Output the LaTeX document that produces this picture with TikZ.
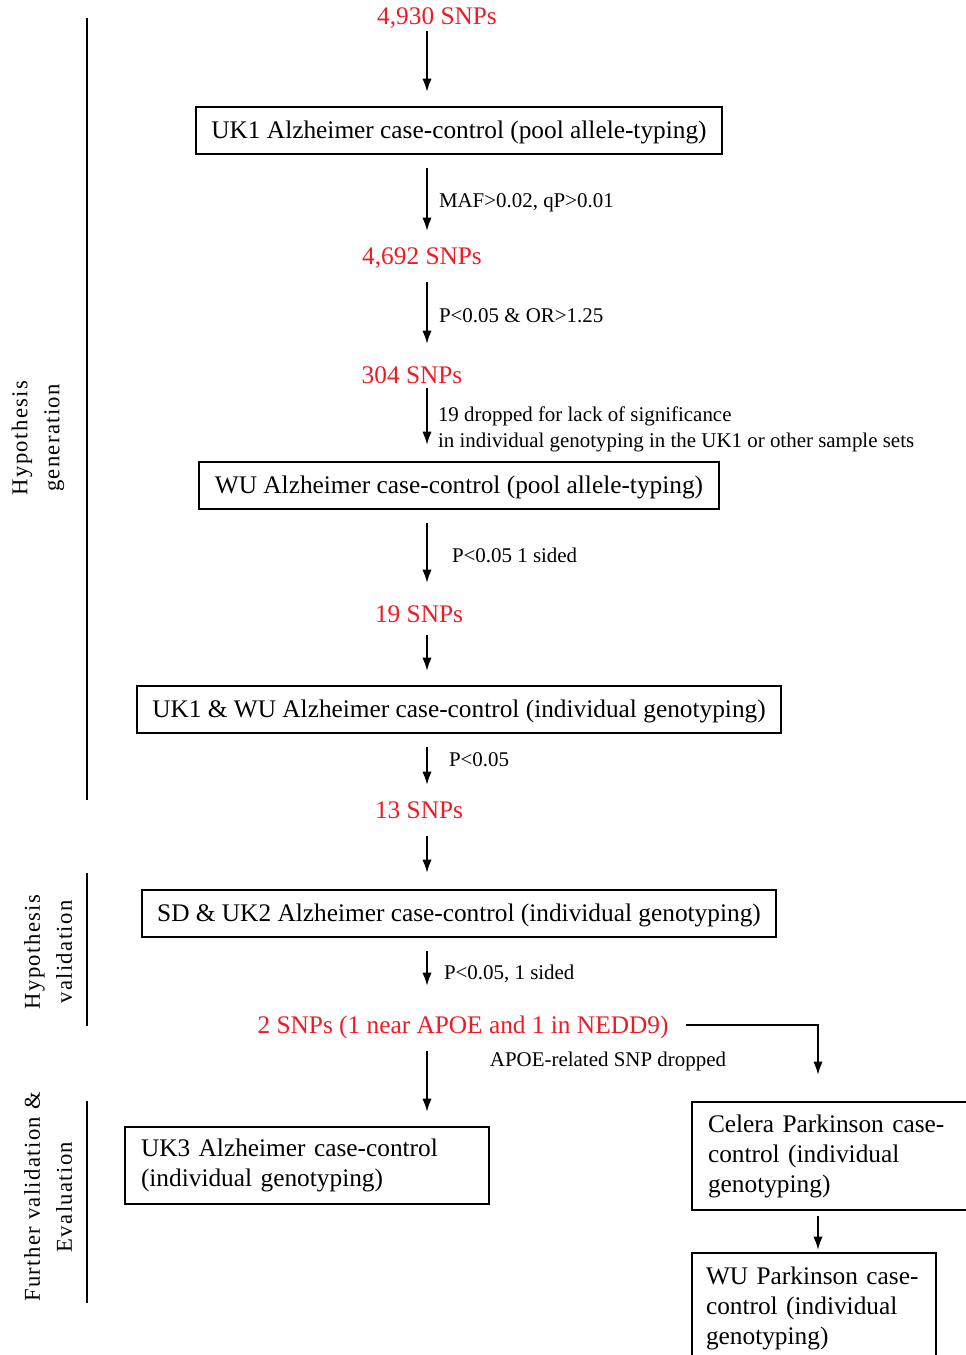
\documentclass[tikz,border=0pt]{standalone}
\usepackage{fontspec}
\setmainfont{Liberation Serif}
\newfontfamily\sidefont[LetterSpace=6]{Liberation Serif}
\usetikzlibrary{arrows.meta,positioning}
\definecolor{snpred}{RGB}{237,28,36}

\begin{document}
\begin{tikzpicture}[
  x=0.75pt, y=-0.75pt,
  line width=1.5pt,
  stagebox/.style={
    draw,
    inner sep=0pt,
    minimum height=35.25pt,
    text height=15pt,
    text depth=3pt,
    font=\fontsize{19}{22.5}\selectfont
    },
  wrapbox/.style={
    draw,
    anchor=north west,
    align=left,
    inner xsep=12pt,
    font=\fontsize{19}{22.5}\selectfont
    },
  snpcount/.style={
    text=snpred,
    inner sep=0pt,
    text height=15pt,
    text depth=3pt,
    font=\fontsize{19}{22.5}\selectfont
    },
  filter/.style={
    anchor=west,
    inner sep=0pt,
    align=left,
    font=\fontsize{15.7}{19.5}\selectfont
    },
  phase/.style={
    rotate=90,
    align=center,
    inner sep=0pt,
    font=\sidefont\fontsize{17}{24}\selectfont
    },
  flow/.style={
    -{Latex[length=10pt,width=7pt]},
    shorten <=9.75pt,
    shorten >=10.5pt
  }
]
\clip (0,0) rectangle (966,1355);
\coordinate (axis) at (427,0);
\coordinate (rcol) at (818,0);

% phases
\node[phase] (hypgen) at (38,438) {Hypothesis\\generation};
\node[phase] (hypval) at (48,952) {Hypothesis\\validation};
\node[phase] (further) at (48,1197) {Further validation \&\\Evaluation};
\draw (87,18) -- (87,800);
\draw (87,873) -- (87,1026);
\draw (87,1101) -- (87,1303);

% main column
\node[snpcount] (snpA) at (437,17) {4,930 SNPs};
\node[stagebox, minimum width=394.5pt] (boxA) at (459,130.5) {UK1 Alzheimer case-control (pool allele-typing)};
\node[snpcount] (snpB) at (422,256) {4,692 SNPs};
\node[snpcount] (snpC) at (412,375) {304 SNPs};
\node[stagebox, minimum width=390pt] (boxB) at (459,485.5) {WU Alzheimer case-control (pool allele-typing)};
\node[snpcount] (snpD) at (419,614) {19 SNPs};
\node[stagebox, minimum width=483pt] (boxC) at (459,709.5) {UK1 \& WU Alzheimer case-control (individual genotyping)};
\node[snpcount] (snpE) at (419,810) {13 SNPs};
\node[stagebox, minimum width=475.5pt] (boxD) at (459,913.5) {SD \& UK2 Alzheimer case-control (individual genotyping)};
\node[snpcount] (snpF) at (463,1025) {2 SNPs (1 near APOE and 1 in NEDD9)};

\node[wrapbox, text width=249pt, minimum height=57.75pt] (ukthree) at (124,1126)
  {UK3 Alzheimer case-control\\(individual genotyping)};
\node[wrapbox, text width=189pt, minimum height=81pt] (celera) at (691,1101)
  {Celera Parkinson case-\\control (individual\\genotyping)};
\node[wrapbox, inner xsep=10.5pt, text width=162pt, minimum height=82.5pt] (wupark) at (691,1252)
  {WU Parkinson case-\\control (individual\\genotyping)};

% filters
\node[filter] (fltA) at (438,202.5) {MAF>0.02, qP>0.01};
\node[filter] (fltB) at (438,315.5) {P<0.05 \& OR>1.25};
\node[filter] (fltC) at (437,429.5) {19 dropped for lack of significance\\in individual genotyping in the UK1 or other sample sets};
\node[filter] (fltD) at (451,555.5) {P<0.05 1 sided};
\node[filter] (fltE) at (448,759.5) {P<0.05};
\node[filter] (fltF) at (443,973.5) {P<0.05, 1 sided};
\node[filter, anchor=center] (fltG) at (608,1061) {APOE-related SNP dropped};

% arrows
\draw[flow, shorten <=0.75pt] (axis |- snpA.south) -- (axis |- boxA.north);
\draw[flow, shorten >=9pt] (axis |- boxA.south) -- (axis |- snpB.north);
\draw[flow, shorten >=13.5pt] (axis |- snpB.south) -- (axis |- snpC.north);
\draw[flow, shorten <=0pt, shorten >=12pt] (axis |- snpC.south) -- (axis |- boxB.north);
\draw[flow, shorten >=13.5pt] (axis |- boxB.south) -- (axis |- snpD.north);
\draw[flow, shorten <=6pt] (axis |- snpD.south) -- (axis |- boxC.north);
\draw[flow, shorten >=9pt] (axis |- boxC.south) -- (axis |- snpE.north);
\draw[flow, shorten >=12pt] (axis |- snpE.south) -- (axis |- boxD.north);
\draw[flow, shorten >=19.5pt] (axis |- boxD.south) -- (axis |- snpF.north);
\draw[flow] (axis |- snpF.south) -- (axis |- ukthree.north);
\draw[flow, shorten <=12.75pt, shorten >=19.5pt] (snpF.east) -| (rcol |- celera.north);
\draw[flow, shorten <=3.75pt, shorten >=1.5pt] (rcol |- celera.south) -- (rcol |- wupark.north);

\end{tikzpicture}
\end{document}
